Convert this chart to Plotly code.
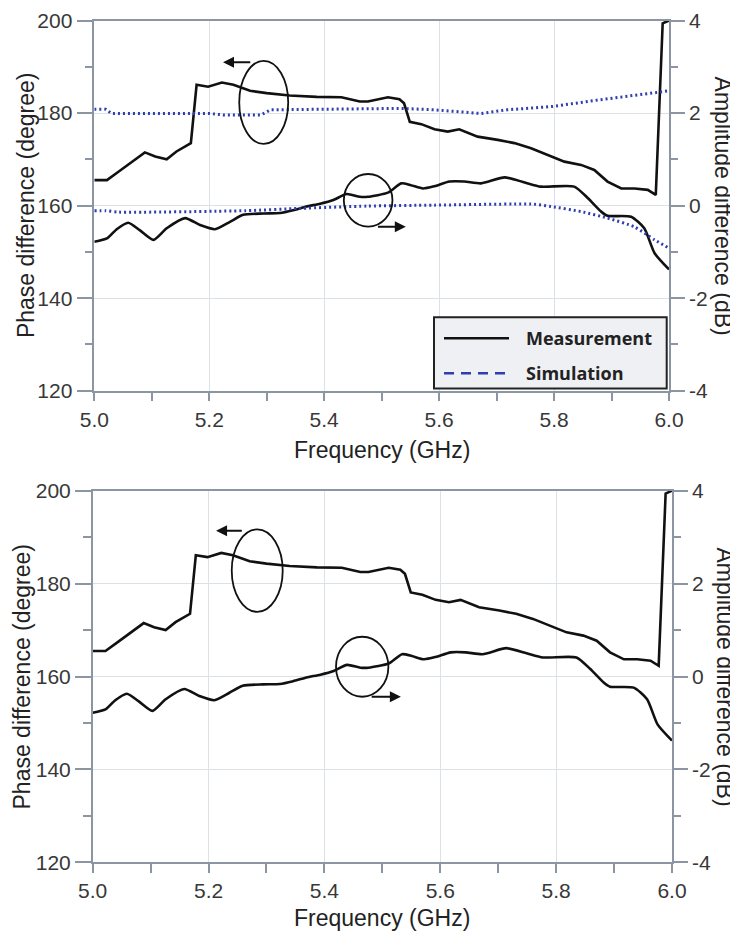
import plotly.graph_objects as go

# ---------------- data ----------------
freq_phase = [5.000, 5.022, 5.042, 5.065, 5.088, 5.106, 5.126, 5.143, 5.168, 5.178,
              5.198, 5.222, 5.242, 5.271, 5.300, 5.340, 5.387, 5.430, 5.462, 5.476,
              5.511, 5.531, 5.539, 5.549, 5.569, 5.592, 5.615, 5.635, 5.667, 5.702,
              5.731, 5.760, 5.789, 5.818, 5.847, 5.870, 5.893, 5.917, 5.940, 5.963,
              5.977, 5.989, 6.000]
phase_meas = [165.5, 165.5, 167.3, 169.4, 171.5, 170.6, 170.0, 171.7, 173.5, 186.1,
              185.7, 186.6, 186.1, 184.8, 184.3, 183.8, 183.5, 183.4, 182.5, 182.5,
              183.4, 183.0, 182.1, 178.1, 177.6, 176.5, 176.0, 176.5, 174.9, 174.2,
              173.5, 172.4, 170.9, 169.5, 168.8, 167.7, 165.2, 163.7, 163.7, 163.4,
              162.3, 199.4, 200.0]

freq_amp = [5.000, 5.022, 5.039, 5.059, 5.079, 5.103, 5.126, 5.158, 5.184, 5.210,
            5.236, 5.259, 5.294, 5.323, 5.346, 5.369, 5.393, 5.416, 5.439, 5.462,
            5.476, 5.511, 5.534, 5.551, 5.572, 5.592, 5.618, 5.644, 5.673, 5.714,
            5.749, 5.777, 5.835, 5.859, 5.882, 5.893, 5.934, 5.957, 5.975, 6.000]
amp_meas = [-0.78, -0.71, -0.51, -0.37, -0.53, -0.74, -0.49, -0.27, -0.42, -0.51,
            -0.35, -0.20, -0.17, -0.16, -0.10, -0.02, 0.04, 0.12, 0.25, 0.19,
            0.19, 0.28, 0.48, 0.44, 0.37, 0.42, 0.52, 0.52, 0.48, 0.61,
            0.50, 0.41, 0.41, 0.16, -0.13, -0.22, -0.24, -0.49, -1.03, -1.38]

freq_sim_phase = [5.000, 5.020, 5.030, 5.113, 5.200, 5.224, 5.290, 5.307, 5.400, 5.478,
                  5.533, 5.592, 5.673, 5.718, 5.796, 5.876, 5.934, 6.000]
phase_sim = [180.8, 180.8, 179.9, 179.9, 179.9, 179.6, 179.6, 180.7, 180.8, 180.8,
             181.0, 180.7, 179.9, 180.7, 181.4, 182.8, 183.7, 184.8]

freq_sim_amp = [5.000, 5.020, 5.043, 5.263, 5.358, 5.475, 5.592, 5.765, 5.795, 5.847,
                5.893, 5.940, 5.975, 6.000]
amp_sim = [-0.11, -0.11, -0.14, -0.11, -0.06, -0.01, 0.01, 0.03, -0.02, -0.13,
           -0.27, -0.46, -0.74, -0.92]

amp_tick_vals = [-4, -2, 0, 2, 4]
amp_tick_text = ["-4", "-2", "0", "2", "4"]

# ---------------- styling ----------------
OFF = 8          # page body margin of the rendered html
W, H = 730, 928
AX = "#8c96a3"
GRID = "#dce1e8"
TXT = "#383838"
FONT = "Liberation Sans, Arial, sans-serif"
BLK = "#111111"
BLUE = "#2f3db0"


def px(x):
    return (x - OFF) / W


def py(y):
    return 1 - (y - OFF) / H


fig = go.Figure()

SIMDASH = "2px,3px"
# top panel
fig.add_trace(go.Scatter(x=freq_phase, y=phase_meas, mode="lines", xaxis="x", yaxis="y",
                         line=dict(color=BLK, width=2.6), showlegend=False))
fig.add_trace(go.Scatter(x=freq_amp, y=amp_meas, mode="lines", xaxis="x", yaxis="y2",
                         line=dict(color=BLK, width=2.6, shape="spline", smoothing=0.6),
                         showlegend=False))
fig.add_trace(go.Scatter(x=freq_sim_phase, y=phase_sim, mode="lines", xaxis="x", yaxis="y",
                         line=dict(color=BLUE, width=3, dash=SIMDASH), showlegend=False))
fig.add_trace(go.Scatter(x=freq_sim_amp, y=amp_sim, mode="lines", xaxis="x", yaxis="y2",
                         line=dict(color=BLUE, width=3, dash=SIMDASH, shape="spline",
                                   smoothing=0.6), showlegend=False))
# bottom panel
fig.add_trace(go.Scatter(x=freq_phase, y=phase_meas, mode="lines", xaxis="x2", yaxis="y3",
                         line=dict(color=BLK, width=2.6), showlegend=False))
fig.add_trace(go.Scatter(x=freq_amp, y=amp_meas, mode="lines", xaxis="x2", yaxis="y4",
                         line=dict(color=BLK, width=2.6, shape="spline", smoothing=0.6),
                         showlegend=False))

tickfont = dict(family=FONT, size=21, color=TXT)

xcommon = dict(range=[5, 6], dtick=0.2, tick0=5, tickformat=".1f", showgrid=True,
               gridcolor=GRID, gridwidth=1, showline=True, linecolor=AX, linewidth=1.5,
               mirror=True, ticks="outside", ticklen=9, tickcolor=AX, tickwidth=1.5,
               tickfont=tickfont, zeroline=False, automargin=False,
               minor=dict(dtick=0.1, ticks="outside", ticklen=9, tickcolor=AX,
                          tickwidth=1.5, showgrid=False))
ycommon = dict(range=[120, 200], dtick=20, tick0=120, showgrid=True, gridcolor=GRID,
               gridwidth=1, showline=True, linecolor=AX, linewidth=1.5, ticks="outside",
               ticklen=16, tickcolor=AX, tickwidth=1.5, tickfont=tickfont, zeroline=False,
               automargin=False,
               minor=dict(dtick=10, ticks="outside", ticklen=8, tickcolor=AX,
                          tickwidth=1.5, showgrid=False))
y2common = dict(range=[-4, 4], tickvals=amp_tick_vals, ticktext=amp_tick_text,
                showgrid=False, showline=True, linecolor=AX, linewidth=1.5,
                ticks="outside", ticklen=14, tickcolor=AX, tickwidth=1.5,
                tickfont=tickfont, zeroline=False, automargin=False, side="right",
                minor=dict(dtick=1, tick0=-4, ticks="outside", ticklen=7, tickcolor=AX,
                           tickwidth=1.5, showgrid=False))

top_x = [px(94.3), px(669.0)]
top_y = [py(390.7), py(20.5)]
bot_x = [px(92.7), px(672.0)]
bot_y = [py(862.3), py(490.7)]

fig.update_layout(
    width=W, height=H,
    margin=dict(l=0, r=0, t=0, b=0),
    paper_bgcolor="white", plot_bgcolor="white",
    template="none",
    xaxis=dict(xcommon, domain=top_x, anchor="y"),
    yaxis=dict(ycommon, domain=top_y, anchor="x"),
    yaxis2=dict(y2common, overlaying="y", anchor="x"),
    xaxis2=dict(xcommon, domain=bot_x, anchor="y3"),
    yaxis3=dict(ycommon, domain=bot_y, anchor="x2"),
    yaxis4=dict(y2common, overlaying="y3", anchor="x2"),
    showlegend=False,
)

shapes = []
annots = []


def ellipse(xr, yr, cx, cy, rx, ry):
    shapes.append(dict(type="circle", xref=xr, yref=yr, x0=cx - rx, x1=cx + rx,
                       y0=cy - ry, y1=cy + ry, line=dict(color=BLK, width=1.8)))


def arrow(xr, yr, x_tail, x_head, yv):
    annots.append(dict(xref=xr, yref=yr, axref=xr, ayref=yr, x=x_head, y=yv,
                       ax=x_tail, ay=yv, text="", showarrow=True, arrowhead=2,
                       arrowsize=1.1, arrowwidth=2, arrowcolor=BLK, standoff=0,
                       startstandoff=0))


# top panel markers
ellipse("x", "y", 5.2948, 182.3, 0.0426, 8.97)
arrow("x", "y", 5.274, 5.224, 191.0)
ellipse("x", "y", 5.4765, 161.15, 0.0423, 5.68)
arrow("x", "y", 5.491, 5.542, 155.45)
# bottom panel markers
ellipse("x2", "y3", 5.284, 182.8, 0.044, 8.87)
arrow("x2", "y3", 5.260, 5.213, 191.4)
ellipse("x2", "y3", 5.4652, 162.1, 0.0452, 6.46)
arrow("x2", "y3", 5.479, 5.532, 155.65)

# legend (top panel)
shapes.append(dict(type="rect", xref="paper", yref="paper", x0=px(434), x1=px(666.7),
                   y0=py(388.5), y1=py(317.3), fillcolor="#eef0f3",
                   line=dict(color="#222222", width=2)))
shapes.append(dict(type="line", xref="paper", yref="paper", x0=px(444), x1=px(509),
                   y0=py(338.3), y1=py(338.3), line=dict(color=BLK, width=2.6)))
shapes.append(dict(type="line", xref="paper", yref="paper", x0=px(444), x1=px(509),
                   y0=py(373.3), y1=py(373.3), line=dict(color=BLUE, width=2.6, dash="10px,7px")))
legfont = dict(family="Open Sans, Noto Sans, sans-serif", size=18, color="#222222")
annots.append(dict(xref="paper", yref="paper", x=px(524), y=py(338.3), xanchor="left",
                   yanchor="middle", text="<b>Measurement</b>", showarrow=False, font=legfont))
annots.append(dict(xref="paper", yref="paper", x=px(524), y=py(373.3), xanchor="left",
                   yanchor="middle", text="<b>Simulation</b>", showarrow=False, font=legfont))

# axis titles
tfont = dict(family=FONT, size=23, color="#222222")
annots.append(dict(xref="paper", yref="paper", x=px(25.5), y=py(205.6), text="Phase difference (degree)",
                   textangle=-90, showarrow=False, font=tfont, xanchor="center", yanchor="middle"))
annots.append(dict(xref="paper", yref="paper", x=px(723), y=py(205.6), text="Amplitude difference (dB)",
                   textangle=90, showarrow=False, font=tfont, xanchor="center", yanchor="middle"))
annots.append(dict(xref="paper", yref="paper", x=px(381.6), y=py(450), text="Frequency (GHz)",
                   showarrow=False, font=tfont, xanchor="center", yanchor="middle"))
annots.append(dict(xref="paper", yref="paper", x=px(21), y=py(676.5), text="Phase difference (degree)",
                   textangle=-90, showarrow=False, font=tfont, xanchor="center", yanchor="middle"))
annots.append(dict(xref="paper", yref="paper", x=px(725), y=py(676.5), text="Amplitude difference (dB)",
                   textangle=90, showarrow=False, font=tfont, xanchor="center", yanchor="middle"))
annots.append(dict(xref="paper", yref="paper", x=px(382.3), y=py(918), text="Frequency (GHz)",
                   showarrow=False, font=tfont, xanchor="center", yanchor="middle"))

fig.update_layout(shapes=shapes, annotations=annots)

fig.write_html("out.html")
